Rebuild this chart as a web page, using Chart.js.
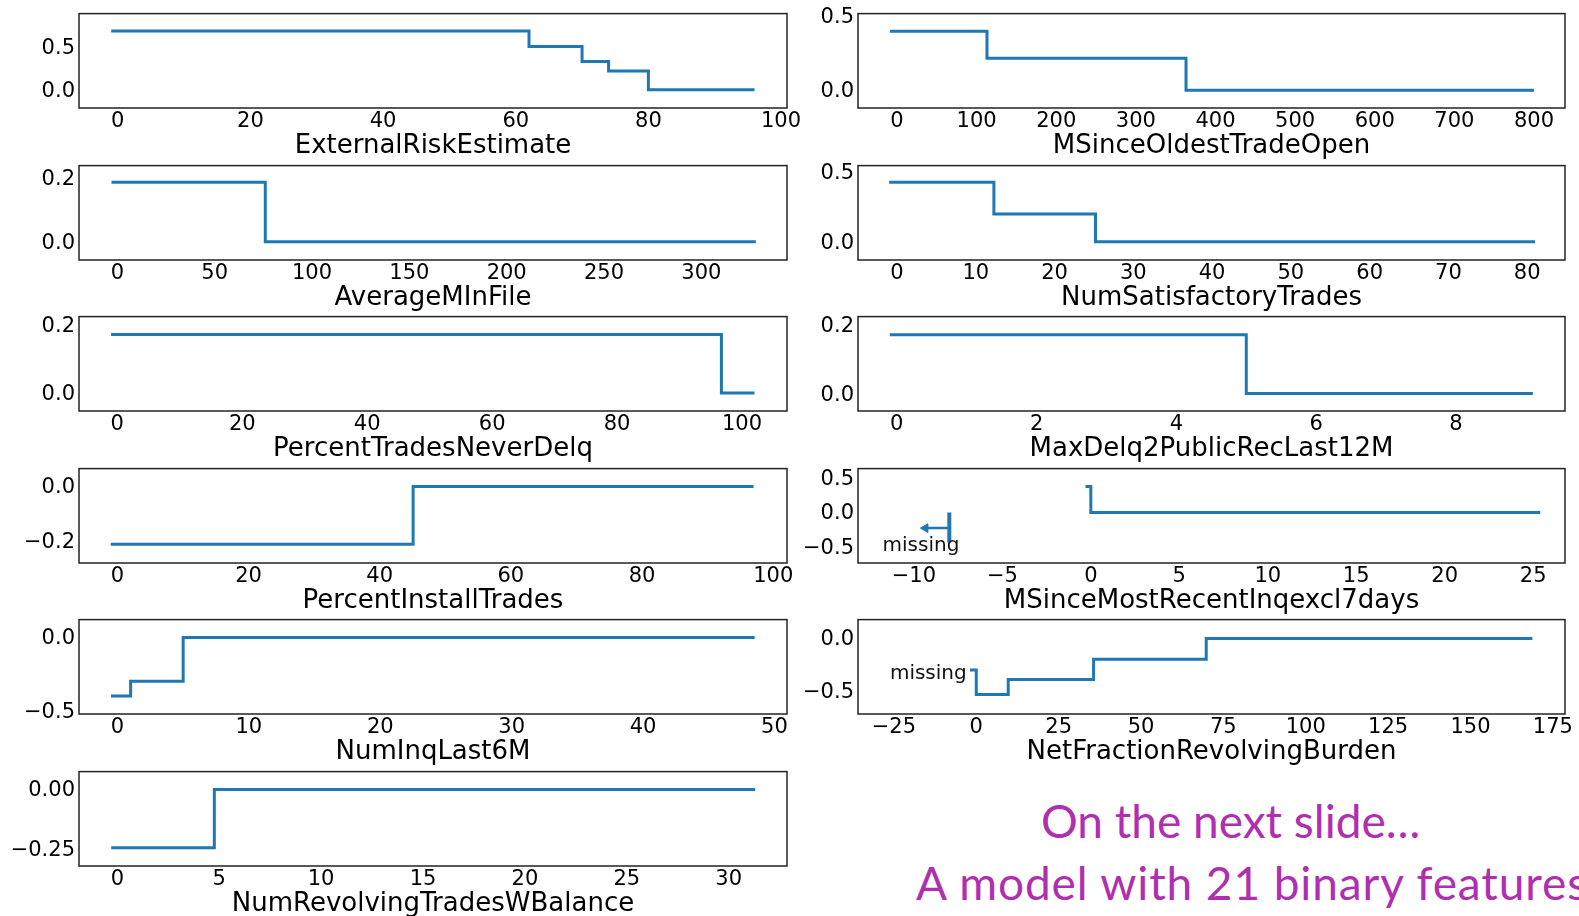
<!DOCTYPE html>
<html>
<head>
<meta charset="utf-8">
<script src="https://cdn.jsdelivr.net/npm/chart.js@4.4.1/dist/chart.umd.min.js"></script>
<style>
  body { margin: 0; width: 1579px; height: 916px; overflow: hidden; background: #fff; position: relative; }
  canvas { position: absolute; }
  .note { position: absolute; white-space: nowrap; color: #b02fb0; font-family: Lato, "Open Sans", sans-serif; font-size: 46px; line-height: 46px; }
</style>
</head>
<body>
<div class="note" style="left:1041px; top:798px;">On the next slide…</div>
<div class="note" style="left:916px; top:860px; letter-spacing:0.9px;">A model with 21 binary features</div>
<script>
// step functions: x = where each level starts, y = level
const extRiskX = [-1, 62, 70, 74, 80, 96];
const extRiskY = [0.695, 0.51, 0.334, 0.223, 0, 0];
const oldestTradeX = [-9, 113, 363, 800];
const oldestTradeY = [0.397, 0.215, 0, 0];
const avgMInFileX = [-3, 76, 328];
const avgMInFileY = [0.186, 0, 0];
const satTradesX = [-1, 12.3, 25.2, 81];
const satTradesY = [0.427, 0.198, 0, 0];
const neverDelqX = [-1, 96.7, 102];
const neverDelqY = [0.172, 0, 0];
const maxDelqX = [-0.1, 5, 9.1];
const maxDelqY = [0.172, 0, 0];
const installX = [-1, 45.1, 97];
const installY = [-0.21, 0, 0];
const recentInqX = [-0.3, 0, 25.4];
const recentInqY = [0.38, 0, 0];
const recentInqMissX = [-8, -8];
const recentInqMissY = [0, -0.44];
const recentInqArrowX = [-8, -9.35];
const recentInqArrowY = [-0.23, -0.23];
const inqLast6MX = [-0.5, 1, 5, 48.5];
const inqLast6MY = [-0.395, -0.296, 0, 0];
const revBurdenX = [-1.9, 0, 9.7, 35.6, 69.8, 168.8];
const revBurdenY = [-0.3, -0.533, -0.39, -0.197, 0, 0];
const revTradesX = [-0.3, 4.76, 31.3];
const revTradesY = [-0.246, 0, 0];

const blue = "#1f77b4";
const colLeft = [79, 858];
const colRight = [787, 1565];
const rowTop = [11, 163, 314, 466, 617, 769];
const boxH = 97;
const yAxisW = 79, padTop = 14, padRight = 30, xAxisH = 55;

function pts(xs, ys) {
  return xs.map((x, i) => ({ x: x, y: ys[i] }));
}

function fmt(dec) {
  return (v) => {
    let s = Number(v).toFixed(dec);
    if (Number(s) === 0) s = s.replace("-", "");
    return s.replace("-", "\u2212");
  };
}

const framePlugin = {
  id: "frame",
  afterDraw(chart) {
    const { ctx, chartArea: a } = chart;
    ctx.save();
    ctx.strokeStyle = "#222";
    ctx.lineWidth = 1.5;
    ctx.strokeRect(a.left, a.top, a.right - a.left, a.bottom - a.top);
    ctx.restore();
  },
};

const notePlugin = {
  id: "note",
  afterDatasetsDraw(chart, args, opts) {
    if (!opts || !opts.text) return;
    const ctx = chart.ctx;
    ctx.save();
    ctx.font = "20px 'DejaVu Sans'";
    ctx.fillStyle = "#111";
    ctx.textAlign = opts.align;
    ctx.textBaseline = "alphabetic";
    ctx.fillText(opts.text, chart.scales.x.getPixelForValue(opts.x), chart.scales.y.getPixelForValue(opts.y));
    ctx.restore();
  },
};

const panels = [
  { title: "ExternalRiskEstimate", col: 0, row: 0, xs: extRiskX, ys: extRiskY,
    x: [-5.85, 100.9, 20], y: [-0.215, 0.9, 0.5, 1] },
  { title: "MSinceOldestTradeOpen", col: 1, row: 0, xs: oldestTradeX, ys: oldestTradeY,
    x: [-49, 839, 100], y: [-0.12, 0.515, 0.5, 1] },
  { title: "AverageMInFile", col: 0, row: 1, xs: avgMInFileX, ys: avgMInFileY,
    x: [-19.7, 344, 50], y: [-0.057, 0.238, 0.2, 1] },
  { title: "NumSatisfactoryTrades", col: 1, row: 1, xs: satTradesX, ys: satTradesY,
    x: [-4.95, 84.8, 10], y: [-0.132, 0.547, 0.5, 1] },
  { title: "PercentTradesNeverDelq", col: 0, row: 2, xs: neverDelqX, ys: neverDelqY,
    x: [-6.13, 107.2, 20], y: [-0.053, 0.225, 0.2, 1] },
  { title: "MaxDelq2PublicRecLast12M", col: 1, row: 2, xs: maxDelqX, ys: maxDelqY,
    x: [-0.555, 9.56, 2], y: [-0.051, 0.225, 0.2, 1] },
  { title: "PercentInstallTrades", col: 0, row: 3, xs: installX, ys: installY,
    x: [-5.84, 102.1, 20], y: [-0.278, 0.0646, 0.2, 1] },
  { title: "MSinceMostRecentInqexcl7days", col: 1, row: 3, xs: recentInqX, ys: recentInqY,
    x: [-13.16, 26.8, 5], y: [-0.74, 0.64, 0.5, 1],
    extra: [
      { data: pts(recentInqMissX, recentInqMissY), borderColor: blue, borderWidth: 4, pointRadius: 0 },
      { data: pts(recentInqArrowX, recentInqArrowY), borderColor: blue, borderWidth: 2.5,
        pointRadius: [0, 5], pointStyle: "triangle", pointRotation: -90,
        pointBackgroundColor: blue, pointBorderColor: blue, pointBorderWidth: 1 },
    ],
    note: { text: "missing", x: -9.6, y: -0.56, align: "center" } },
  { title: "NumInqLast6M", col: 0, row: 4, xs: inqLast6MX, ys: inqLast6MY,
    x: [-2.93, 50.96, 10], y: [-0.517, 0.121, 0.5, 1] },
  { title: "NetFractionRevolvingBurden", col: 1, row: 4, xs: revBurdenX, ys: revBurdenY,
    x: [-35.9, 178.7, 25], y: [-0.72, 0.18, 0.5, 1],
    note: { text: "missing", x: -2.9, y: -0.385, align: "right" } },
  { title: "NumRevolvingTradesWBalance", col: 0, row: 5, xs: revTradesX, ys: revTradesY,
    x: [-1.88, 32.86, 5], y: [-0.3225, 0.075, 0.25, 2] },
];

function makePanel(p) {
  const canvas = document.createElement("canvas");
  const w = colRight[p.col] - colLeft[p.col] + yAxisW + padRight;
  const h = padTop + boxH + xAxisH;
  canvas.width = w;
  canvas.height = h;
  canvas.style.left = (colLeft[p.col] - yAxisW) + "px";
  canvas.style.top = (rowTop[p.row] - padTop) + "px";
  document.body.appendChild(canvas);

  const datasets = [
    { data: pts(p.xs, p.ys), stepped: true, borderColor: blue, borderWidth: 3, pointRadius: 0 },
  ].concat(p.extra || []);

  const tickFont = { family: "DejaVu Sans", size: 21 };

  new Chart(canvas, {
    type: "line",
    data: { datasets: datasets },
    options: {
      responsive: false,
      animation: false,
      events: [],
      layout: { padding: { left: 0, top: padTop, right: padRight, bottom: 0 } },
      plugins: { legend: { display: false }, tooltip: { enabled: false }, note: p.note || {} },
      scales: {
        x: {
          type: "linear",
          min: p.x[0], max: p.x[1],
          grid: { display: false, drawTicks: false },
          border: { display: false },
          ticks: { stepSize: p.x[2], includeBounds: false, autoSkip: false, maxRotation: 0,
            font: tickFont, color: "#000", padding: 1, callback: fmt(0) },
          title: { display: true, text: p.title, color: "#000",
            font: { family: "DejaVu Sans", size: 26 }, padding: { top: 0, bottom: 1.5 } },
          afterFit: (s) => { s.height = xAxisH; },
        },
        y: {
          type: "linear",
          min: p.y[0], max: p.y[1],
          grid: { display: false, drawTicks: false },
          border: { display: false },
          ticks: { stepSize: p.y[2], includeBounds: false, autoSkip: false, labelOffset: 1.5,
            font: tickFont, color: "#000", padding: 4, callback: fmt(p.y[3]) },
          afterFit: (s) => { s.width = yAxisW; },
        },
      },
    },
    plugins: [framePlugin, notePlugin],
  });
}

panels.forEach(makePanel);
</script>
</body>
</html>
